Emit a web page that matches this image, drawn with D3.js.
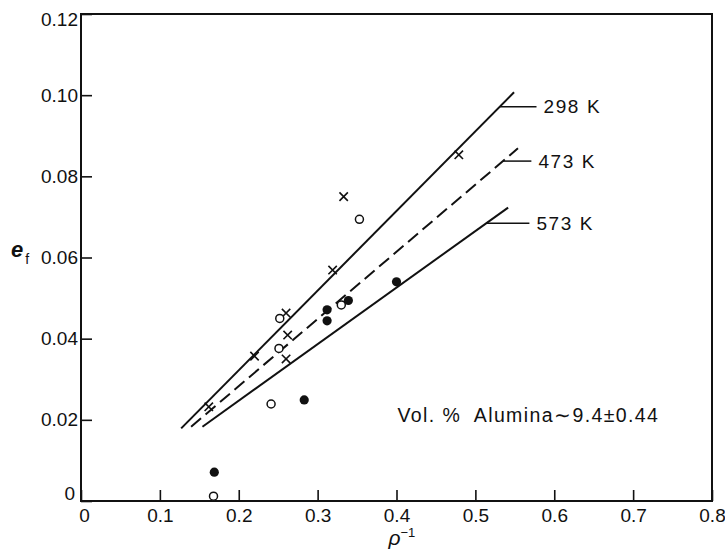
<!DOCTYPE html>
<html>
<head>
<meta charset="utf-8">
<script src="https://cdn.jsdelivr.net/npm/d3@7"></script>
<style>
  html, body { margin: 0; padding: 0; background: #fff; }
  svg { display: block; }
  text { font-family: "Liberation Sans", Arial, sans-serif; fill: #111; }
</style>
</head>
<body>
<svg id="chart" width="725" height="557"></svg>
<script>
// Fracture strain e_f versus inverse aspect ratio, alumina-reinforced composite

// Tick values
const xTicks = [0, 0.1, 0.2, 0.3, 0.4, 0.5, 0.6, 0.7, 0.8];
const yTicks = [0, 0.02, 0.04, 0.06, 0.08, 0.10, 0.12];

// Measured points, [inverse aspect ratio, fracture strain]
const crossPoints = [
  [0.162, 0.0232], [0.220, 0.0357], [0.260, 0.0463], [0.262, 0.0409],
  [0.260, 0.0350], [0.319, 0.0569], [0.333, 0.0750], [0.479, 0.0853]
];
const openPoints = [
  [0.252, 0.0450], [0.251, 0.0376], [0.241, 0.0239], [0.168, 0.0012],
  [0.330, 0.0483], [0.353, 0.0694]
];
const filledPoints = [
  [0.283, 0.0249], [0.169, 0.0071], [0.312, 0.0471], [0.312, 0.0444],
  [0.339, 0.0494], [0.400, 0.0540]
];

// Fitted lines per test temperature: [start, end] in data units
const fitLabels = ["298 K", "473 K", "573 K"];
const fitLines = [
  [[0.127, 0.0179], [0.549, 0.1007]],
  [[0.1396, 0.0183], [0.554, 0.0869]],
  [[0.154, 0.0183], [0.5415, 0.0723]]
];
const fitDashed = [false, true, false];
// Leader line: starts on the fit line at x0, ends at x1
const leaderX0 = [0.531, 0.535, 0.514];
const leaderX1 = [0.5775, 0.571, 0.5685];

const noteText = "Vol. %  Alumina\u223C9.4\u00B10.44";

const svg = d3.select("#chart");
const plotL = 81, plotR = 712, plotT = 14, plotB = 501;

const x = d3.scaleLinear().domain([0, 0.8]).range([plotL, plotR]);
const y = d3.scaleLinear().domain([0, 0.12]).range([plotB, plotT]);

const ink = "#111";

// Axes with inward ticks
const fmt = d => d === 0 ? "0" : d3.format(".1f")(d);
const fmtY = d => d === 0 ? "0" : d3.format(".2f")(d);

const gx = svg.append("g")
  .attr("transform", `translate(0,${plotB})`)
  .call(d3.axisBottom(x).tickValues(xTicks).tickFormat(fmt)
    .tickSizeInner(-11).tickSizeOuter(0).tickPadding(8));
gx.select(".domain").remove();
gx.selectAll("line").attr("stroke", ink).attr("stroke-width", 1.6);
gx.selectAll("text").attr("font-size", 19).attr("fill", ink)
  .style("font-family", "'Liberation Sans', Arial, sans-serif");
gx.selectAll(".tick").filter(d => d === 0).select("text").attr("dx", 3);

const gy = svg.append("g")
  .attr("transform", `translate(${plotL},0)`)
  .call(d3.axisLeft(y).tickValues(yTicks).tickFormat(fmtY)
    .tickSizeInner(-11).tickSizeOuter(0).tickPadding(3));
gy.select(".domain").remove();
gy.selectAll("line").attr("stroke", ink).attr("stroke-width", 1.6);
gy.selectAll("text").attr("font-size", 19).attr("fill", ink)
  .style("font-family", "'Liberation Sans', Arial, sans-serif");
gy.selectAll(".tick").filter(d => d === 0).select("text").attr("dy", "-0.1em").attr("dx", -3);
gy.selectAll(".tick").filter(d => d === 0.12).select("text").attr("dy", "0.6em");

// Frame
svg.append("rect")
  .attr("x", plotL).attr("y", plotT)
  .attr("width", plotR - plotL).attr("height", plotB - plotT)
  .attr("fill", "none").attr("stroke", ink).attr("stroke-width", 2);

// Fit lines
const lineGen = d3.line().x(d => x(d[0])).y(d => y(d[1]));
svg.append("g").selectAll("path")
  .data(fitLines)
  .join("path")
  .attr("d", d => lineGen(d))
  .attr("fill", "none")
  .attr("stroke", ink)
  .attr("stroke-width", 2)
  .attr("stroke-dasharray", (d, i) => fitDashed[i] ? "13,6" : null);

// Labels with leader lines
const onLine = (seg, xv) => seg[0][1] + (xv - seg[0][0]) * (seg[1][1] - seg[0][1]) / (seg[1][0] - seg[0][0]);
const lab = svg.append("g");
fitLines.forEach((seg, i) => {
  const yv = onLine(seg, leaderX0[i]);
  lab.append("line")
    .attr("x1", x(leaderX0[i])).attr("x2", x(leaderX1[i]))
    .attr("y1", y(yv)).attr("y2", y(yv))
    .attr("stroke", ink).attr("stroke-width", 1.5);
  lab.append("text")
    .attr("x", x(leaderX1[i]) + 7)
    .attr("y", y(yv))
    .attr("dy", "0.36em")
    .attr("font-size", 19)
    .attr("letter-spacing", 1.6)
    .text(fitLabels[i]);
});

// Markers
const pts = svg.append("g");
pts.selectAll(".cross")
  .data(crossPoints)
  .join("path")
  .attr("class", "cross")
  .attr("d", d => {
    const cx = x(d[0]), cy = y(d[1]), s = 4.2;
    return `M${cx - s},${cy - s}L${cx + s},${cy + s}M${cx - s},${cy + s}L${cx + s},${cy - s}`;
  })
  .attr("stroke", ink).attr("stroke-width", 1.6).attr("fill", "none");

pts.selectAll(".open")
  .data(openPoints)
  .join("circle")
  .attr("class", "open")
  .attr("cx", d => x(d[0])).attr("cy", d => y(d[1]))
  .attr("r", 4)
  .attr("fill", "#fff").attr("stroke", ink).attr("stroke-width", 1.5);

pts.selectAll(".filled")
  .data(filledPoints)
  .join("circle")
  .attr("class", "filled")
  .attr("cx", d => x(d[0])).attr("cy", d => y(d[1]))
  .attr("r", 4.6)
  .attr("fill", ink);

// Composition note
svg.append("text")
  .attr("x", x(0.4) + 1)
  .attr("y", y(0.0194))
  .attr("font-size", 19.5)
  .attr("letter-spacing", 1.4)
  .style("white-space", "pre")
  .text(noteText);

// Axis titles
const xt = svg.append("text")
  .attr("x", (plotL + plotR) / 2 - 8)
  .attr("y", 545)
  .attr("font-size", 21);
xt.append("tspan").attr("font-style", "italic").text("\u03C1");
xt.append("tspan").attr("font-size", 13).attr("dy", -8).text("\u22121");

const yt = svg.append("text")
  .attr("x", 11)
  .attr("y", 257)
  .attr("font-size", 22);
yt.append("tspan").attr("font-weight", "bold").attr("font-style", "italic").text("e");
yt.append("tspan").attr("font-size", 14).attr("dx", 2).attr("dy", 7).text("f");
</script>
</body>
</html>
